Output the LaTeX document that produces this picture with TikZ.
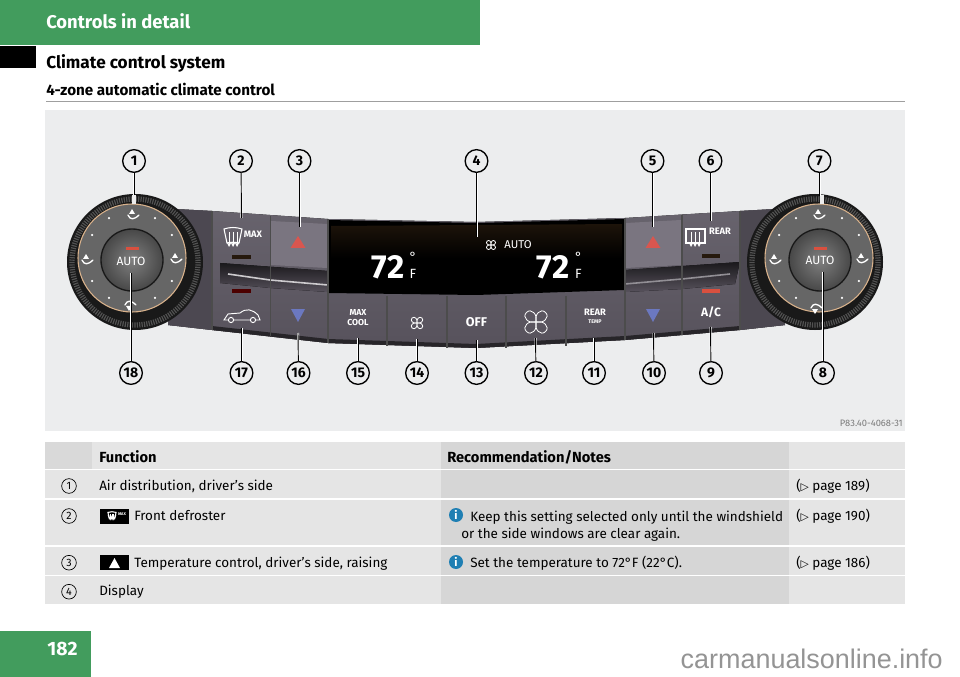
\documentclass[tikz,border=0pt]{standalone}
\usepackage{fontspec}
\setmainfont{Fira Sans}
\newfontfamily\symfont{DejaVu Sans}
\newfontfamily\markfont{Liberation Sans}
\usepackage{xcolor}
\usepackage{tikz}
\definecolor{bandgreen}{HTML}{429C5D}
\definecolor{photobg}{HTML}{ECEDEE}
\definecolor{rowlight}{HTML}{E5E5E5}
\definecolor{rowhead}{HTML}{D9D9D9}
\definecolor{rowdark}{HTML}{D6D6D6}
\definecolor{panelhi}{HTML}{736E79}
\definecolor{panello}{HTML}{57525C}
\definecolor{infoblue}{HTML}{1F7FB3}
\definecolor{ledred}{HTML}{D9503F}
\definecolor{arrowblue}{HTML}{6B78C0}
\definecolor{arrowred}{HTML}{D9564F}
\tikzset{
  callout/.style={circle,draw,line width=1pt,fill=photobg,inner sep=0pt,minimum size=17pt,font=\bfseries\fontsize{10.5}{11}\selectfont},
  leader/.style={line width=.7pt,preaction={draw=white,line width=1.5pt}},
  tabnum/.style={circle,draw,line width=.5pt,inner sep=0pt,minimum size=11pt,font=\fontsize{8}{8}\selectfont},
  tabtext/.style={anchor=base west,inner sep=0pt,font=\fontsize{10.1}{11}\selectfont},
  tabhead/.style={tabtext,font=\bfseries\fontsize{11}{11}\selectfont},
  infodot/.style={circle,fill=infoblue,text=white,inner sep=0pt,minimum size=10.5pt,font=\bfseries\fontsize{8.5}{8.5}\selectfont},
  keytext/.style={text=white,inner sep=0pt,font=\bfseries\fontsize{7}{8}\selectfont},
  fanicon/.pic={
    \foreach \a in {45,135,225,315}
      \draw[white,line width=.6pt,rotate=\a] (0,0) .. controls (3,-5) and (10,-5) .. (10,0) .. controls (10,5) and (3,5) .. (0,0);
  },
  defrost/.pic={
    \draw[white,line width=.8pt] (-9,-8) .. controls (-3,-10) and (3,-10) .. (9,-8) -- (6,6) .. controls (2,5) and (-2,5) .. (-6,6) -- cycle;
    \foreach \a in {-4,0,4}
      \draw[white,line width=.7pt,->,>=stealth] (\a,-5) -- (\a,10);
  },
  rearfrost/.pic={
    \draw[white,line width=.8pt] (-11,-8) rectangle (8,6);
    \foreach \a in {-6,-2,2}
      \draw[white,line width=.7pt,->,>=stealth] (\a,-5) -- (\a,10);
  },
  ventmark/.pic={
    \draw[white,line width=1pt,line cap=round] (-6,-1) .. controls (-4,4) and (0,4) .. (5,-1);
    \fill[white] (-2,-7) -- (1,-2) -- (-5,-2) -- cycle;
  },
}
\begin{document}
\begin{tikzpicture}[x=0.75pt,y=-0.75pt]
  \useasboundingbox (0,0) rectangle (960,677);
  \fill[white] (0,0) rectangle (960,677);
  \fill[bandgreen] (0,0) rectangle (480,45);
  \fill[black] (0,46) rectangle (36,68);
  \fill[bandgreen] (0,631) rectangle (91,677);
  \node[anchor=base west,inner sep=0pt,text=white,font=\bfseries\fontsize{13.8}{14}\selectfont] (chapter) at (46,29) {Controls in detail};
  \node[anchor=base west,inner sep=0pt,font=\bfseries\fontsize{12.9}{13}\selectfont] (section) at (46,69) {Climate control system};
  \node[anchor=base west,inner sep=0pt,font=\bfseries\fontsize{11.4}{12}\selectfont] (subsection) at (46,96) {4-zone automatic climate control};
  \draw[gray!75,line width=1pt] (46,101.5) -- (905,101.5);
  \node[text=white,inner sep=0pt,font=\bfseries\fontsize{14.5}{14}\selectfont] (pagenum) at (62.5,649) {182};
  \node[anchor=base east,inner sep=0pt,text=black!42,font=\markfont\fontsize{20.2}{20}\selectfont] (watermark) at (943,668) {carmanualsonline.info};

  \fill[photobg] (45,110) rectangle (905,431);
  \fill[top color=panelhi!90!black,bottom color=panello] (175,209) -- (212,211) -- (328,219) -- (476,222) -- (625,218) -- (740,211) -- (775,209)
    -- (785,325) -- (740,330) -- (625,340) -- (476,348) -- (328,343) -- (212,330) -- (168,325) -- cycle;
  \fill[panello!88!black] (175,209) -- (212,211) -- (212,330) -- (168,325) -- cycle;
  \fill[panello!88!black] (740,211) -- (775,209) -- (785,325) -- (740,330) -- cycle;
  \fill[black!55!panello] (212,330) -- (328,343) -- (476,348) -- (625,340) -- (740,330) -- (740,326) -- (625,336) -- (476,344) -- (328,339) -- (212,326) -- cycle;
  \fill[top color=black!70!panello,bottom color=panello] (220,263) -- (328,271) -- (328,292) -- (270,288) -- (220,283) -- cycle;
  \fill[top color=black!70!panello,bottom color=panello] (625,270) -- (740,262) -- (735,284) -- (682,289) -- (625,292) -- cycle;
  \draw[white!70!panello,line width=1.2pt] (228,274) -- (270,280) -- (328,285);
  \draw[white!35!panello,line width=1.2pt] (625,284) -- (682,279) -- (730,274);
  \fill[panelhi!95!white] (271,221) -- (327,224) -- (327,268) -- (271,265) -- cycle;
  \fill[panelhi!95!white] (626,223) -- (681,220) -- (681,265) -- (626,268) -- cycle;
  \fill[black] (328,220) -- (476,223) -- (624,219) -- (624,290) -- (476,295) -- (328,293) -- cycle;
  \fill[top color=black!85!brown,bottom color=black] (331,226) -- (622,224) -- (622,258) -- (331,258) -- cycle;
  \draw[black!70,line width=.8pt] (212,211) -- (212,330);
  \draw[black!70,line width=.8pt] (270.5,216) -- (270.5,336);
  \draw[black!70,line width=.8pt] (328,219) -- (328,343);
  \draw[black!70,line width=.8pt] (387,296) -- (387,346);
  \draw[black!70,line width=.8pt] (447,296) -- (447,348);
  \draw[black!70,line width=.8pt] (506,296) -- (506,348);
  \draw[black!70,line width=.8pt] (566,296) -- (566,346);
  \draw[black!70,line width=.8pt] (625,218) -- (625,340);
  \draw[black!70,line width=.8pt] (682,215) -- (682,335);
  \draw[black!70,line width=.8pt] (740,211) -- (740,330);

  \foreach \dx/\fx/\kx in {135/132/132,815/819/820} {
    \fill[black!90] (\dx,262) circle (68);
    \draw[black!68,line width=4pt,dash pattern=on .9pt off .9pt] (\dx,262) circle (63);
    \fill[black!60] (\fx,258) circle (54);
    \draw[brown!60!white,line width=.8pt] (\fx,258) circle (54);
    \foreach \a in {30,60,120,150,210,240,300,330}
      \fill[white] (\fx,258) ++(\a:46) circle (1.2);
    \shade[inner color=black!50,outer color=black!72] (\kx,260) circle (31);
    \draw[black!90,line width=1pt] (\kx,260) circle (31);
    \fill[ledred] (\kx-6.5,247) rectangle (\kx+6.5,250);
    \fill[white!85!gray] (\kx-.5,195) rectangle (\kx+4,204);
  }
  \node[keytext,font=\fontsize{9}{9}\selectfont] (autoleft) at (131,261) {AUTO};
  \node[keytext,font=\fontsize{9}{9}\selectfont] (autoright) at (820,260) {AUTO};
  \pic at (134,216) {ventmark};
  \pic[rotate=0] at (88,261) {ventmark};
  \pic at (177,260) {ventmark};
  \pic[yscale=-1] at (131,304) {ventmark};
  \pic at (820,216) {ventmark};
  \pic at (776,261) {ventmark};
  \pic at (863,260) {ventmark};
  \pic[yscale=-1] at (817,307) {ventmark};

  \pic at (233,237) {defrost};
  \node[keytext] (maxkey) at (253,234) {MAX};
  \pic at (697,237) {rearfrost};
  \node[keytext] (rearkey) at (720,231) {REAR};
  \fill[black!80!brown] (232,255.5) rectangle (251,259.5);
  \fill[black!70!red] (232,289) rectangle (251,293);
  \fill[black!80!brown] (702,254) rectangle (720,258);
  \fill[ledred] (702,289) rectangle (720,293);
  \fill[arrowred] (298,236) -- (305.5,248) -- (290.5,248) -- cycle;
  \fill[arrowblue] (298,322) -- (305,309) -- (291,309) -- cycle;
  \fill[arrowred] (653,236) -- (660.5,248) -- (645.5,248) -- cycle;
  \fill[arrowblue] (653,322) -- (660,309) -- (646,309) -- cycle;
  \draw[white,line width=.7pt] (224,320) -- (228,314) -- (240,313) .. controls (246,308) and (252,309) .. (258,315) -- (260,320) -- cycle;
  \draw[white,line width=.7pt,fill=panello] (231,320) circle (2.6) (253,320) circle (2.6);

  \node[text=white,inner sep=0pt,font=\bfseries\fontsize{25}{26}\selectfont] (templeft) at (388,267) {72};
  \node[text=white,inner sep=0pt,font=\fontsize{10}{10}\selectfont] (degleft) at (413,256.5) {°};
  \node[text=white,inner sep=0pt,font=\fontsize{10}{10}\selectfont] (unitleft) at (413,273.5) {F};
  \node[text=white,inner sep=0pt,font=\bfseries\fontsize{25}{26}\selectfont] (tempright) at (553,267) {72};
  \node[text=white,inner sep=0pt,font=\fontsize{10}{10}\selectfont] (degright) at (578.5,256.5) {°};
  \node[text=white,inner sep=0pt,font=\fontsize{10}{10}\selectfont] (unitright) at (578.5,273.5) {F};
  \pic[scale=.55] at (491,245) {fanicon};
  \node[keytext,font=\fontsize{8.5}{8.5}\selectfont] (autodisp) at (518,245) {AUTO};
  \node[keytext,align=center,font=\bfseries\fontsize{6.5}{8}\selectfont] (maxcool) at (358,317.5) {MAX\\COOL};
  \pic[scale=.7] at (417,323) {fanicon};
  \node[keytext,font=\bfseries\fontsize{9.5}{9.5}\selectfont] (offkey) at (476.5,322) {OFF};
  \pic[scale=1.35] at (536,322) {fanicon};
  \node[keytext,font=\bfseries\fontsize{7}{7}\selectfont] (rearlabel) at (595,312) {REAR};
  \node[keytext,font=\bfseries\fontsize{4}{4}\selectfont] (templabel) at (595,322) {TEMP};
  \node[keytext,font=\bfseries\fontsize{9}{9}\selectfont] (ackey) at (711,312) {A/C};

  \node[anchor=base east,inner sep=0pt,text=black!52,font=\fontsize{7}{7}\selectfont] (partno) at (903,426) {P83.40-4068-31};

  \coordinate (e1) at (134,195);
  \coordinate (e2) at (241.5,218);
  \coordinate (e3) at (299.5,227);
  \coordinate (e4) at (476.5,237);
  \coordinate (e5) at (652.5,227);
  \coordinate (e6) at (710.5,221);
  \coordinate (e7) at (819.5,196);
  \coordinate (e8) at (823,272);
  \coordinate (e9) at (710.5,327);
  \coordinate (e10) at (653.5,333);
  \coordinate (e11) at (594,338);
  \coordinate (e12) at (535.5,338);
  \coordinate (e13) at (476.5,340);
  \coordinate (e14) at (417,339);
  \coordinate (e15) at (358,338);
  \coordinate (e16) at (298,333);
  \coordinate (e17) at (241.5,328);
  \coordinate (e18) at (131,273);
  \node[callout] (c1) at (134,161) {1};
  \node[callout] (c2) at (241,161) {2};
  \node[callout] (c3) at (299.5,161) {3};
  \node[callout] (c4) at (476.5,161) {4};
  \node[callout] (c5) at (652.5,161) {5};
  \node[callout] (c6) at (710.5,161) {6};
  \node[callout] (c7) at (819.5,161) {7};
  \node[callout] (c8) at (823,373) {8};
  \node[callout] (c9) at (711,373) {9};
  \node[callout] (c10) at (654,373) {10};
  \node[callout] (c11) at (594,373) {11};
  \node[callout] (c12) at (536,373) {12};
  \node[callout] (c13) at (476.5,373) {13};
  \node[callout] (c14) at (417,373) {14};
  \node[callout] (c15) at (358,373) {15};
  \node[callout] (c16) at (298.5,373) {16};
  \node[callout] (c17) at (241.5,373) {17};
  \node[callout] (c18) at (131,373) {18};
  \draw[leader] (c1) -- (e1);
  \draw[leader] (c2) -- (e2);
  \draw[leader] (c3) -- (e3);
  \draw[leader] (c4) -- (e4);
  \draw[leader] (c5) -- (e5);
  \draw[leader] (c6) -- (e6);
  \draw[leader] (c7) -- (e7);
  \draw[leader] (c8) -- (e8);
  \draw[leader] (c9) -- (e9);
  \draw[leader] (c10) -- (e10);
  \draw[leader] (c11) -- (e11);
  \draw[leader] (c12) -- (e12);
  \draw[leader] (c13) -- (e13);
  \draw[leader] (c14) -- (e14);
  \draw[leader] (c15) -- (e15);
  \draw[leader] (c16) -- (e16);
  \draw[leader] (c17) -- (e17);
  \draw[leader] (c18) -- (e18);

  \fill[rowhead] (45,442) rectangle (92,469);
  \fill[rowlight] (92,442) rectangle (441,469);
  \fill[rowdark] (441,442) rectangle (789,469);
  \fill[rowlight] (789,442) rectangle (905,469);
  \foreach \ya/\yb in {470/498,499.5/545,546.5/574.5,576/604} {
    \fill[rowlight] (45,\ya) rectangle (441,\yb);
    \fill[rowdark] (441,\ya) rectangle (789,\yb);
    \fill[rowlight] (789,\ya) rectangle (905,\yb);
  }
  \node[tabhead] (headfunc) at (99,462) {Function};
  \node[tabhead] (headnotes) at (447,462) {Recommendation/Notes};
  \node[tabnum] (n1) at (69,486) {1};
  \node[tabnum] (n2) at (69,516) {2};
  \node[tabnum] (n3) at (69,562.7) {3};
  \node[tabnum] (n4) at (69,591.7) {4};
  \node[tabtext] (air) at (99,490) {Air distribution, driver’s side};
  \fill[black] (100,509) rectangle (129,524);
  \pic[scale=.45] at (112,516) {defrost};
  \node[keytext,font=\bfseries\fontsize{3}{3}\selectfont] (maxbadge) at (122,514) {MAX};
  \node[tabtext] (front) at (134,520) {Front defroster};
  \fill[black] (100,554.5) rectangle (129,570);
  \fill[white] (114.5,558) -- (120,568) -- (109,568) -- cycle;
  \node[tabtext] (raise) at (134,567) {Temperature control, driver’s side, raising};
  \node[tabtext] (disp) at (99,595.6) {Display};
  \node[infodot] (i1) at (456,515) {i};
  \node[tabtext] (keep) at (470,521) {Keep this setting selected only until the windshield};
  \node[tabtext] (side) at (461,538) {or the side windows are clear again.};
  \node[infodot] (i2) at (456,562) {i};
  \node[tabtext] (setto) at (470,567) {Set the temperature to 72°F (22°C).};
  \node[tabtext] (p1) at (796,490) {({\symfont\fontsize{8}{8}\selectfont ▷} page 189)};
  \node[tabtext] (p2) at (796,520) {({\symfont\fontsize{8}{8}\selectfont ▷} page 190)};
  \node[tabtext] (p3) at (796,567) {({\symfont\fontsize{8}{8}\selectfont ▷} page 186)};
\end{tikzpicture}
\end{document}
